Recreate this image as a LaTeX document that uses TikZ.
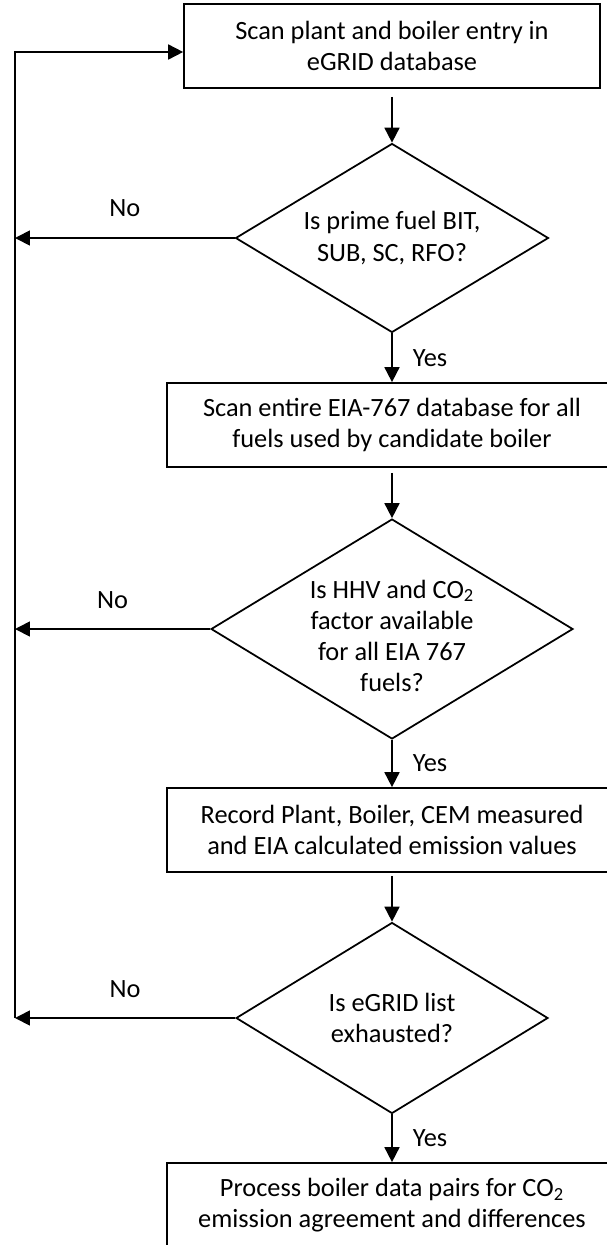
\documentclass[tikz,border=0pt]{standalone}
\usepackage{fontspec}
\setmainfont{Carlito}
\usetikzlibrary{shapes.geometric,arrows.meta}

\begin{document}
\begin{tikzpicture}[x=.02cm,y=-.02cm,line width=1pt,
  font=\fontsize{15}{17.8}\selectfont,
  stepbox/.style={draw,rectangle,minimum height=1.68cm,align=center,inner sep=0pt},
  decision/.style={draw,diamond,inner sep=0pt},
  flow/.style={-{Triangle[length=.3cm,width=.3cm]}},
  lbl/.style={inner sep=0pt}]
  \useasboundingbox (0,0) rectangle (606,1245);
  % boxes
  \node[stepbox,minimum width=8.32cm] (b1) at (392,46) {Scan plant and boiler entry in\\eGRID database};
  \node[stepbox,minimum width=9cm] (b2) at (392,425) {Scan entire EIA-767 database for all\\fuels used by candidate boiler};
  \node[stepbox,minimum width=9cm] (b3) at (392,830) {Record Plant, Boiler, CEM measured\\and EIA calculated emission values};
  \node[stepbox,minimum width=9cm] (b4) at (392,1205) {Process boiler data pairs for CO\textsubscript{2}\\emission agreement and differences};
  % decisions
  \node[decision,minimum width=6.26cm,minimum height=3.78cm] (d1) at (392,238) {};
  \node[lbl,align=center] (d1txt) at (d1) {Is prime fuel BIT,\\SUB, SC, RFO?};
  \node[decision,minimum width=7.24cm,minimum height=4.4cm] (d2) at (392,629) {};
  \node[lbl,align=center] (d2txt) at (392,636) {Is HHV and CO\textsubscript{2}\\factor available\\for all EIA 767\\fuels?};
  \node[decision,minimum width=6.24cm,minimum height=3.82cm] (d3) at (392,1018) {};
  \node[lbl,align=center] (d3txt) at (d3) {Is eGRID list\\exhausted?};
  % main flow
  \draw[flow,shorten <=.16cm] (b1) -- (d1);
  \draw[flow] (d1) -- node[lbl,right=.4cm] (y1) {Yes} (b2);
  \draw[flow,shorten <=.1cm] (b2) -- (d2);
  \draw[flow] (d2) -- node[lbl,right=.4cm] (y2) {Yes} (b3);
  \draw[flow,shorten <=.06cm] (b3) -- (d3);
  \draw[flow] (d3) -- node[lbl,right=.4cm] (y3) {Yes} (b4);
  % loop back
  \coordinate (lt) at (15,52);
  \coordinate (lb) at (lt |- d3.west);
  \draw[flow] (d1.west) -- node[lbl,above=.4cm] (n1) {No} (d1.west -| lt);
  \draw[flow] (d2.west) -- node[lbl,above=.38cm] (n2) {No} (d2.west -| lt);
  \draw[flow] (d3.west) -- node[lbl,above=.38cm] (n3) {No} (lb);
  \draw[flow] (lb) -- (lt) -- (lt -| b1.west);
\end{tikzpicture}
\end{document}
